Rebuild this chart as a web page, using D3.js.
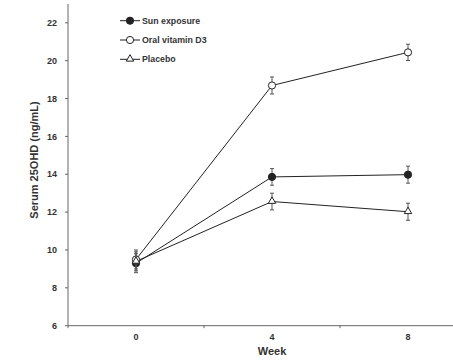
<!DOCTYPE html>
<html>
<head>
<meta charset="utf-8">
<script src="https://cdn.jsdelivr.net/npm/d3@7"></script>
<style>
  body { margin: 0; background: #fff; }
  svg { display: block; font-family: Arial, "Liberation Sans", sans-serif; }
</style>
</head>
<body>
<div id="chart"></div>
<script>
var weeks = [0, 4, 8];
var seriesNames = ["Sun exposure", "Oral vitamin D3", "Placebo"];
var sunMean = [9.3, 13.86, 13.98];
var sunErr = [0.5, 0.44, 0.45];
var oralMean = [9.5, 18.69, 20.44];
var oralErr = [0.5, 0.45, 0.43];
var placeboMean = [9.4, 12.56, 12.02];
var placeboErr = [0.5, 0.44, 0.45];
var yTicks = [6, 8, 10, 12, 14, 16, 18, 20, 22];
var xTickLabels = [0, 4, 8];
var xMinorTicks = [-2, 2, 6, 10];

var width = 453, height = 364;
var ink = "#222", axisCol = "#666", textCol = "#333";

var x = d3.scaleLinear().domain([-2, 10]).range([68, 476]);
var y = d3.scaleLinear().domain([6, 23]).range([325.7, 3.9]);

var svg = d3.select("#chart").append("svg")
    .attr("width", width)
    .attr("height", height);

var series = [
    { name: seriesNames[0], mean: sunMean, err: sunErr, shape: "circle", fill: ink },
    { name: seriesNames[1], mean: oralMean, err: oralErr, shape: "circle", fill: "#fff" },
    { name: seriesNames[2], mean: placeboMean, err: placeboErr, shape: "triangle", fill: "#fff" }
];

// y axis
svg.append("line")
    .attr("x1", x(-2)).attr("x2", x(-2))
    .attr("y1", y(23)).attr("y2", y(6))
    .style("stroke", axisCol).style("stroke-width", 1);

svg.selectAll(".ytick")
    .data(yTicks).enter()
    .append("line")
    .attr("x1", x(-2) - 3).attr("x2", x(-2))
    .attr("y1", function(d) { return y(d); })
    .attr("y2", function(d) { return y(d); })
    .style("stroke", axisCol);

svg.selectAll(".ylab")
    .data(yTicks).enter()
    .append("text")
    .attr("x", 57)
    .attr("y", function(d) { return y(d); })
    .attr("dy", "0.35em")
    .attr("text-anchor", "end")
    .style("font-size", "9px")
    .style("font-weight", "bold")
    .style("fill", textCol)
    .text(function(d) { return d; });

svg.append("text")
    .attr("transform", "translate(38,160) rotate(-90)")
    .attr("text-anchor", "middle")
    .style("font-size", "11px")
    .style("font-weight", "bold")
    .style("fill", textCol)
    .text("Serum 25OHD (ng/mL)");

// x axis
svg.append("line")
    .attr("x1", x(-2)).attr("x2", x(10))
    .attr("y1", y(6)).attr("y2", y(6))
    .style("stroke", axisCol).style("stroke-width", 1);

svg.selectAll(".xtick")
    .data(xMinorTicks).enter()
    .append("line")
    .attr("x1", function(d) { return x(d); })
    .attr("x2", function(d) { return x(d); })
    .attr("y1", y(6)).attr("y2", y(6) + 2.5)
    .style("stroke", axisCol);

svg.selectAll(".xlab")
    .data(xTickLabels).enter()
    .append("text")
    .attr("x", function(d) { return x(d); })
    .attr("y", 337)
    .attr("dy", "0.35em")
    .attr("text-anchor", "middle")
    .style("font-size", "9px")
    .style("font-weight", "bold")
    .style("fill", textCol)
    .text(function(d) { return d; });

svg.append("text")
    .attr("x", x(4))
    .attr("y", 351)
    .attr("dy", "0.35em")
    .attr("text-anchor", "middle")
    .style("font-size", "11px")
    .style("font-weight", "bold")
    .style("fill", textCol)
    .text("Week");

function drawMarker(g, s, cx, cy) {
    if (s.shape == "circle") {
        g.append("circle")
            .attr("cx", cx).attr("cy", cy).attr("r", 3.6)
            .style("fill", s.fill)
            .style("stroke", ink).style("stroke-width", 1);
    } else {
        g.append("path")
            .attr("d", d3.symbol().type(d3.symbolTriangle).size(24)())
            .attr("transform", "translate(" + cx + "," + (cy - 0.3) + ")")
            .style("fill", s.fill)
            .style("stroke", ink).style("stroke-width", 1);
    }
}

var line = d3.line()
    .x(function(d) { return x(d.w); })
    .y(function(d) { return y(d.v); });

// lines first, then error bars and markers
series.forEach(function(s) {
    var pts = weeks.map(function(w, i) { return { w: w, v: s.mean[i], e: s.err[i] }; });
    svg.append("path")
        .datum(pts)
        .attr("d", line)
        .style("fill", "none")
        .style("stroke", ink)
        .style("stroke-width", 1);
});

series.forEach(function(s) {
    var pts = weeks.map(function(w, i) { return { w: w, v: s.mean[i], e: s.err[i] }; });
    var g = svg.append("g");
    pts.forEach(function(p) {
        var cx = x(p.w);
        g.append("line")
            .attr("x1", cx).attr("x2", cx)
            .attr("y1", y(p.v + p.e)).attr("y2", y(p.v - p.e))
            .style("stroke", "#555");
        [p.v + p.e, p.v - p.e].forEach(function(v) {
            g.append("line")
                .attr("x1", cx - 2).attr("x2", cx + 2)
                .attr("y1", y(v)).attr("y2", y(v))
                .style("stroke", "#555");
        });
        drawMarker(g, s, cx, y(p.v));
    });
});

// legend
var legend = svg.append("g");
series.forEach(function(s, i) {
    var ly = 20.7 + i * 19.3;
    legend.append("line")
        .attr("x1", 120).attr("x2", 140)
        .attr("y1", ly).attr("y2", ly)
        .style("stroke", ink);
    drawMarker(legend, s, 130, ly);
    legend.append("text")
        .attr("x", 142)
        .attr("y", ly)
        .attr("dy", "0.35em")
        .style("font-size", "8.8px")
        .style("font-weight", "bold")
        .style("fill", textCol)
        .text(s.name);
});
</script>
</body>
</html>
